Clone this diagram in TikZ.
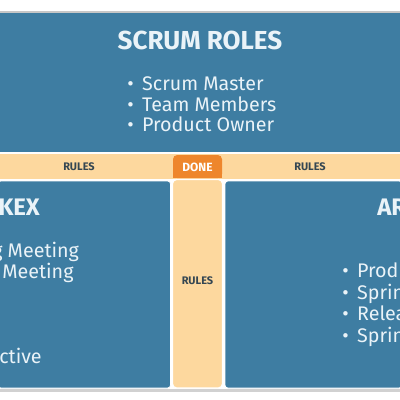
\documentclass[tikz,border=0pt]{standalone}
\usepackage{fontspec}
\setmainfont{Fira Sans}
\usetikzlibrary{positioning}

\definecolor{scrumblue}{RGB}{62,125,162}
\definecolor{rulepeach}{RGB}{253,216,158}
\definecolor{doneorange}{RGB}{238,134,44}
\definecolor{ruletext}{RGB}{52,70,82}
\definecolor{itemtext}{RGB}{234,243,248}

\begin{document}
\begin{tikzpicture}[x=0.025cm,y=-0.025cm,
  every node/.style={font=\fontsize{14}{16}\selectfont,text=itemtext,inner sep=0pt},
  bluebox/.style={fill=scrumblue,draw=white,line width=0.6pt},
  peach/.style={fill=rulepeach,draw=white,line width=0.8pt},
  ttl/.style={anchor=base,font=\fontsize{18.5}{20}\selectfont\bfseries},
  item/.style={anchor=base west},
  rl/.style={font=\fontsize{7.8}{9}\selectfont\bfseries,text=ruletext}]
\useasboundingbox (0,0) rectangle (400,400);
\fill[white] (0,0) rectangle (400,400);
\clip (0,0) rectangle (400,400);
% top band
\fill[black!22] (0,11.5) rectangle (400,13.5);
\fill[scrumblue] (0,13) rectangle (400,152.5);
\fill[black!18] (0,389) rectangle (400,392);
% rules band, column and the two lower boxes
\draw[peach] (-2,153.5) rectangle (402,179.5);
\draw[bluebox,rounded corners=2] (-2,181) rectangle (170.5,388);
\draw[peach,rounded corners=3] (172.5,179.5) rectangle (222.5,388);
\draw[bluebox,rounded corners=2] (225,181) rectangle (402,388);
\fill[doneorange,rounded corners=3] (173,155) rectangle (222,178);
\fill[doneorange] (173,166) rectangle (222,178);

\node[ttl] (roles) at (200,50) {SCRUM ROLES};
\node[item] (sm) at (127,91) {•\, Scrum Master};
\node[item] (tm) at (127,111.5) {•\, Team Members};
\node[item] (po) at (127,132) {•\, Product Owner};

\node[rl] (rulesl) at (79,167) {RULES};
\node[rl] (rulesr) at (310,167) {RULES};
\node[rl,text=white,font=\fontsize{8.5}{9}\selectfont\bfseries] (done) at (197.5,167) {DONE};
\node[rl] (rulesm) at (197.5,281) {RULES};

\node[item,font=\fontsize{17}{19}\selectfont\bfseries] (lefthd) at (-2,215) {KEX};
\node[item] (l1) at (-8,257) {g Meeting};
\node[item] (l2) at (2,278) {Meeting};
\node[item] (l3) at (-1,363) {ctive};

\node[item,font=\fontsize{17}{19}\selectfont\bfseries] (righthd) at (377,215) {AR};
\node[item] (r1) at (342,277) {•\, Produ};
\node[item] (r2) at (342,299) {•\, Sprin};
\node[item] (r3) at (342,320) {•\, Relea};
\node[item] (r4) at (342,342) {•\, Sprin};
\end{tikzpicture}
\end{document}
